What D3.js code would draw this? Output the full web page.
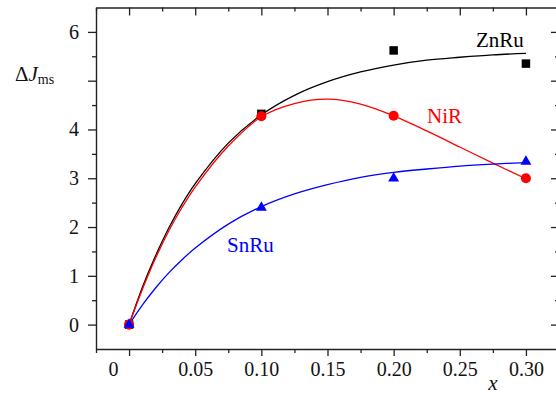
<!DOCTYPE html>
<html><head><meta charset="utf-8">
<script src="https://cdn.jsdelivr.net/npm/d3@7"></script>
<style>
html,body{margin:0;padding:0;background:#fff;}
</style></head>
<body>
<svg id="chart" width="556" height="400"></svg>
<script>
// ---- data ----
const pointX = [0, 0.1, 0.2, 0.3];
const znRuPoints = [0, 4.32, 5.62, 5.35];
const niRPoints = [0, 4.27, 4.28, 3.0];
const snRuPoints = [0, 2.40, 3.00, 3.34];

// fitted curves
const curveX = [0, 0.01, 0.02, 0.03, 0.04, 0.05, 0.075, 0.1, 0.125, 0.15, 0.175, 0.2, 0.225, 0.25, 0.275, 0.3];
const znRuCurve = [0, 0.76, 1.41, 1.98, 2.47, 2.89, 3.72, 4.30, 4.70, 4.98, 5.18, 5.32, 5.42, 5.48, 5.53, 5.56];
const niRCurve  = [0, 0.72, 1.36, 1.92, 2.40, 2.82, 3.66, 4.26, 4.53, 4.62, 4.52, 4.28, 3.97, 3.64, 3.31, 2.99];
const snRuCurve = [0, 0.40, 0.75, 1.06, 1.33, 1.57, 2.06, 2.42, 2.68, 2.87, 3.02, 3.12, 3.19, 3.25, 3.29, 3.32];

const seriesNames = ["ZnRu", "NiR", "SnRu"];
const seriesColors = ["#000000", "#ff0000", "#0000ff"];

const xMajorTicks = [0, 0.05, 0.10, 0.15, 0.20, 0.25, 0.30];
const xTickLabels = ["0", "0.05", "0.10", "0.15", "0.20", "0.25", "0.30"];
const xMinorTicks = [-0.025, 0.025, 0.075, 0.125, 0.175, 0.225, 0.275, 0.325];
const yMajorTicks = [0, 1, 2, 3, 4, 5, 6];
const yTickLabels = ["0", "1", "2", "3", "4", "", "6"];
const yMinorTicks = [0.5, 1.5, 2.5, 3.5, 4.5, 5.5];

// ---- layout ----
const FONT = "'Liberation Serif'";
const svg = d3.select("#chart");
const L = 96, R = 559, T = 7.5, B = 349;
const x = d3.scaleLinear().domain([-0.025, 0.325]).range([L, R]);
const y = d3.scaleLinear().domain([-0.5, 6.5]).range([B, T]);
const axisColor = "#222";

function styleAxis(g, fs) {
  g.style("font-family", FONT);
  g.selectAll("path.domain").attr("stroke", axisColor).attr("stroke-width", 1.4);
  g.selectAll(".tick line").attr("stroke", axisColor).attr("stroke-width", 1.3);
  g.selectAll(".tick text").attr("fill", "#111").style("font-size", fs + "px").style("font-family", FONT);
}

// bottom
const gb = svg.append("g").attr("transform", `translate(0,${B})`)
  .call(d3.axisBottom(x).tickValues(xMajorTicks).tickSize(7).tickSizeOuter(0).tickPadding(6)
    .tickFormat((d, i) => xTickLabels[i]));
styleAxis(gb, 20);
gb.selectAll(".tick text").filter((d) => d === 0).attr("dx", -16);
const gbm = svg.append("g").attr("transform", `translate(0,${B})`)
  .call(d3.axisBottom(x).tickValues(xMinorTicks).tickSize(4).tickFormat(""));
gbm.select("path.domain").remove();
styleAxis(gbm, 20);

// top
const gt = svg.append("g").attr("transform", `translate(0,${T})`)
  .call(d3.axisBottom(x).tickValues(xMajorTicks).tickSize(8).tickSizeOuter(0).tickFormat(""));
styleAxis(gt, 20);
const gtm = svg.append("g").attr("transform", `translate(0,${T})`)
  .call(d3.axisBottom(x).tickValues(xMinorTicks).tickSize(4).tickFormat(""));
gtm.select("path.domain").remove();
styleAxis(gtm, 20);

// left
const gl = svg.append("g").attr("transform", `translate(${L},0)`)
  .call(d3.axisLeft(y).tickValues(yMajorTicks).tickSize(8).tickSizeOuter(0).tickPadding(9)
    .tickFormat((d, i) => yTickLabels[i]));
styleAxis(gl, 20);
const glm = svg.append("g").attr("transform", `translate(${L},0)`)
  .call(d3.axisLeft(y).tickValues(yMinorTicks).tickSize(4).tickFormat(""));
glm.select("path.domain").remove();
styleAxis(glm, 20);

// right
const gr = svg.append("g").attr("transform", `translate(${R},0)`)
  .call(d3.axisRight(y).tickValues(yMajorTicks).tickSize(-8).tickSizeOuter(0).tickFormat(""));
styleAxis(gr, 20);
const grm = svg.append("g").attr("transform", `translate(${R},0)`)
  .call(d3.axisRight(y).tickValues(yMinorTicks).tickSize(-4).tickFormat(""));
grm.select("path.domain").remove();
styleAxis(grm, 20);

// axis titles
const yt = svg.append("text").attr("x", 15).attr("y", 81).attr("fill", "#111")
  .style("font-family", FONT).style("font-size", "21px");
yt.append("tspan").text("Δ");
yt.append("tspan").style("font-style", "italic").text("J");
yt.append("tspan").attr("dy", 3).style("font-size", "14px").text("ms");

svg.append("text").attr("x", 493).attr("y", 390).attr("text-anchor", "middle")
  .style("font-family", FONT).style("font-style", "italic").style("font-size", "21px")
  .attr("fill", "#111").text("x");

// curves
const curves = [znRuCurve, niRCurve, snRuCurve];
const line = d3.line().x((d, i) => x(curveX[i])).y(d => y(d)).curve(d3.curveCatmullRom);
curves.forEach((c, k) => {
  svg.append("path").datum(c).attr("d", line).attr("fill", "none")
    .attr("stroke", seriesColors[k]).attr("stroke-width", 1.3);
});

// markers
const pts = [znRuPoints, niRPoints, snRuPoints];
const shapes = [d3.symbol().type(d3.symbolSquare).size(72),
                d3.symbol().type(d3.symbolCircle).size(80),
                d3.symbol().type(d3.symbolTriangle).size(52)];
pts.forEach((p, k) => {
  svg.append("g").selectAll("path").data(p).join("path")
    .attr("transform", (d, i) => `translate(${x(pointX[i])},${y(d)})`)
    .attr("d", shapes[k]).attr("fill", seriesColors[k]);
});

// series labels
const labelPos = [[476, 47], [427, 123], [227, 252]];
seriesNames.forEach((n, k) => {
  svg.append("text").attr("x", labelPos[k][0]).attr("y", labelPos[k][1])
    .style("font-family", FONT).style("font-size", "21px").attr("fill", seriesColors[k]).text(n);
});
</script>
</body></html>
